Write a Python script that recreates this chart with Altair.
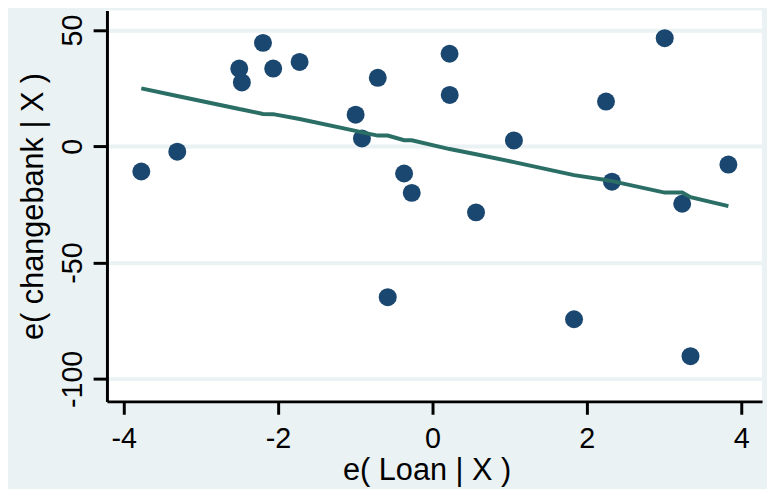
import altair as alt
import pandas as pd

# residuals of Loan given X (sorted)
e_loan = [-3.772, -3.306, -2.503, -2.469, -2.195, -2.063, -1.721, -0.995,
          -0.913, -0.708, -0.579, -0.367, -0.268, 0.222, 0.224, 0.565,
          1.056, 1.835, 2.249, 2.326, 3.010, 3.236, 3.344, 3.835]
# residuals of changebank given X
e_changebank = [-10.85, -2.34, 33.39, 27.44, 44.45, 33.39, 36.24, 13.57,
                3.36, 29.43, -64.87, -11.70, -20.03, 39.77, 22.08, -28.41,
                2.51, -74.35, 19.23, -15.23, 46.45, -24.71, -90.22, -7.87]
# lowess smooth evaluated at each e_loan value
lowess = [24.9, 21.6, 16.0, 15.8, 13.9, 13.8, 11.7, 6.6,
          6.0, 4.6, 4.6, 2.6, 2.6, -1.2, -1.2, -3.4,
          -6.8, -12.4, -14.5, -15.0, -19.9, -19.9, -21.9, -25.7]

x_ticks = [-4, -2, 0, 2, 4]
y_ticks = [-100, -50, 0, 50]

df = pd.DataFrame({
    "ex": e_loan,
    "ey": e_changebank,
    "low": lowess,
    "idx": list(range(len(e_loan))),
})

FONT = "Liberation Sans"

x_scale = alt.Scale(domain=[-4.217, 4.271], nice=False, zero=False)
y_scale = alt.Scale(domain=[-109.66, 58.36], nice=False, zero=False)

x_axis = alt.Axis(
    values=x_ticks,
    labelExpr="'' + datum.value",
    title="e( Loan | X )",
    grid=False,
    domainColor="black", domainWidth=3,
    tickColor="black", tickWidth=3, tickSize=13,
    labelFont=FONT, labelFontSize=29, labelColor="black",
    labelBaseline="alphabetic", labelPadding=34,
    titleFont=FONT, titleFontSize=31, titleFontWeight="normal",
    titleColor="black", titleBaseline="alphabetic",
    titleX=323, titleY=79, titleAlign="center",
)

y_axis = alt.Axis(
    values=y_ticks,
    labelExpr="'' + datum.value",
    title="e( changebank | X )",
    grid=True, gridColor="#eaf2f3", gridWidth=4,
    domainColor="black", domainWidth=3,
    tickColor="black", tickWidth=3, tickSize=14,
    labelFont=FONT, labelFontSize=29, labelColor="black",
    labelAngle=270, labelAlign="center", labelBaseline="alphabetic",
    labelPadding=12,
    titleFont=FONT, titleFontSize=31, titleFontWeight="normal",
    titleColor="black", titleAngle=270, titleAlign="center",
    titleBaseline="alphabetic", titleX=-65, titleY=197.5,
)

points = alt.Chart(df).mark_circle(size=330, opacity=1, color="#1a476f").encode(
    x=alt.X("ex:Q", scale=x_scale, axis=x_axis),
    y=alt.Y("ey:Q", scale=y_scale, axis=y_axis),
)

line = alt.Chart(df).mark_line(color="#2a6e66", strokeWidth=4).encode(
    x=alt.X("ex:Q", scale=x_scale),
    y=alt.Y("low:Q", scale=y_scale),
    order="idx:Q",
)

chart = alt.layer(points, line).properties(
    width=662,
    height=395,
    background="#eaf2f3",
    padding={"left": 100, "top": 0, "right": 5, "bottom": 86},
    autosize=alt.AutoSizeParams(type="none"),
).configure_view(fill="white", stroke=None)

chart.save("out.html", embed_options={"renderer": "svg", "actions": False})
